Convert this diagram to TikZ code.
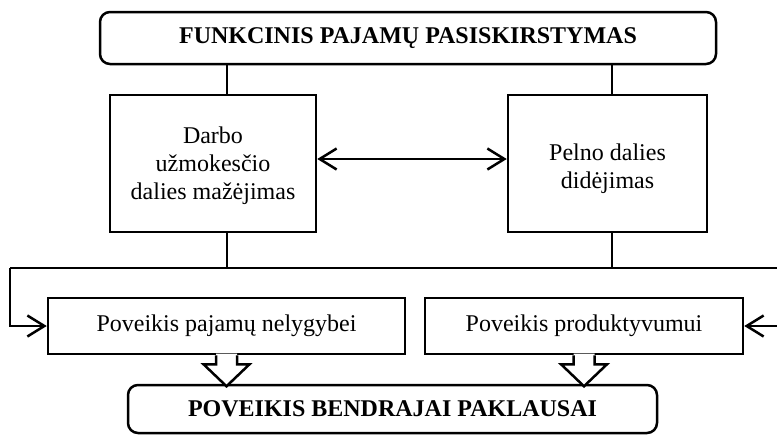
\documentclass[tikz,border=0pt]{standalone}
\usepackage{fontspec}
\setmainfont{Liberation Serif}
\usetikzlibrary{arrows.meta}
\tikzset{
  box/.style={draw, line width=2.5pt, inner sep=0pt, align=center,
    font=\fontsize{24}{27.6}\selectfont},
  roundbox/.style={box, rounded corners=10pt,
    font=\fontsize{24}{27.6}\selectfont\bfseries},
  wire/.style={line width=2.5pt},
  barb/.style={line width=2.5pt,
    -{Straight Barb[length=17pt,width=21pt]}},
}
% hollow block arrow hanging from a box bottom
\newcommand\blockarrow[1]{%
  \fill[white] (#1) ++(-10.5,-1.6) -- ++(0,10.6) -- ++(-12.5,0) -- ++(23,22)
    -- ++(23,-22) -- ++(-12.5,0) -- ++(0,-10.6) -- cycle;
  \draw[wire] (#1) ++(-10.5,0) -- ++(0,9) -- ++(-12.5,0) -- ++(23,22)
    -- ++(23,-22) -- ++(-12.5,0) -- ++(0,-9);}
\begin{document}
\begin{tikzpicture}[x=1pt,y=-1pt]
\useasboundingbox (0,0) rectangle (777,440);

\node[roundbox, minimum width=616pt, minimum height=52pt] (top) at (408,38)
  {FUNKCINIS PAJAMŲ PASISKIRSTYMAS};
\node[box, minimum width=206pt, minimum height=137pt] (left) at (213,163.5)
  {\rule{0pt}{21pt}Darbo\\užmokesčio\\dalies mažėjimas};
\node[box, minimum width=199pt, minimum height=137pt] (right) at (607.5,163.5)
  {\rule{0pt}{27pt}Pelno dalies\\didėjimas};
\node[box, minimum width=357pt, minimum height=56pt] (ineq) at (226.5,326)
  {Poveikis pajamų nelygybei};
\node[box, minimum width=318pt, minimum height=56pt] (prod) at (584,326)
  {Poveikis produktyvumui};
\node[roundbox, minimum width=529pt, minimum height=48pt] (agg) at (392.5,409)
  {POVEIKIS BENDRAJAI PAKLAUSAI};

% links from the top box
\draw[wire] ([xshift=14pt]left.north) -- ([xshift=14pt]left.north |- top.south);
\draw[wire] ([xshift=4.5pt]right.north) -- ([xshift=4.5pt]right.north |- top.south);

% two-way link between the shares
\draw[barb, {Straight Barb[length=17pt,width=21pt]}-{Straight Barb[length=17pt,width=21pt]}]
  ([yshift=4.5pt]left.east) -- ([yshift=4.5pt]left.east -| right.west);

% common bus
\coordinate (busL) at (10,268);
\coordinate (busR) at (781,268);
\draw[wire] ([xshift=14pt]left.south) -- ([xshift=14pt]left.south |- busL);
\draw[wire] ([xshift=4.5pt]right.south) -- ([xshift=4.5pt]right.south |- busL);
\draw[wire] (busL) -- (busR);
\draw[barb] (busL) |- (ineq.west);
\draw[barb] (busR) |- (prod.east);

% block arrows into the bottom box
\blockarrow{ineq.south}
\blockarrow{prod.south}
\end{tikzpicture}
\end{document}
